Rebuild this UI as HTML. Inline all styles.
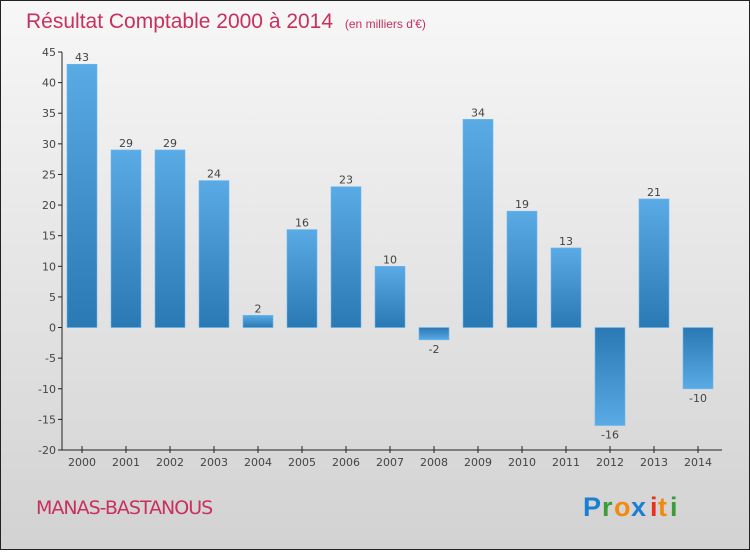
<!DOCTYPE html>
<html><head><meta charset="utf-8"><style>
body{margin:0}
#c{width:748px;height:548px;border:1px solid #222;background:linear-gradient(#f7f7f7,#d2d2d2);position:relative;font-family:"DejaVu Sans","Liberation Sans",sans-serif}
</style></head><body>
<div id="c">
<svg width="748" height="548">
<defs><linearGradient id="gp" x1="0" y1="0" x2="0" y2="1"><stop offset="0" stop-color="#5aaae6"/><stop offset="1" stop-color="#2a78b4"/></linearGradient>
<linearGradient id="gn" x1="0" y1="0" x2="0" y2="1"><stop offset="0" stop-color="#2a78b4"/><stop offset="1" stop-color="#5aaae6"/></linearGradient></defs>
<text x="25" y="27" font-size="21" fill="#c8305e" font-family="Liberation Sans,sans-serif">Résultat Comptable 2000 à 2014 <tspan font-size="12" dx="6">(en milliers d'€)</tspan></text>
<text x="35" y="513" font-size="19" fill="#c8305e" letter-spacing="-1">MANAS-BASTANOUS</text>
<g id="plot"></g>
<g font-size="27" font-family="Liberation Sans,sans-serif" font-weight="bold">
<text x="582" y="515" fill="#1a7fd4">P</text><text x="601" y="515" fill="#3a9c3a">r</text><text x="613" y="515" fill="#f08a10">o</text><text x="630" y="515" fill="#1a7fd4">x</text><text x="649" y="515" fill="#e83020">i</text><text x="657" y="515" fill="#f08a10">t</text><text x="669" y="515" fill="#3a9c3a">i</text></g>
</svg></div>
<script>
const years=[2000,2001,2002,2003,2004,2005,2006,2007,2008,2009,2010,2011,2012,2013,2014];
const values=[43,29,29,24,2,16,23,10,-2,34,19,13,-16,21,-10];
const ticks=[45,40,35,30,25,20,15,10,5,0,-5,-10,-15,-20];
const NS="http://www.w3.org/2000/svg";
const g=document.getElementById('plot');
const yMax=45,yMin=-20,pTop=51,pBot=449;
const y=v=>pTop+(yMax-v)*(pBot-pTop)/(yMax-yMin);
const x=i=>81+i*44;
function el(t,a,p){const e=document.createElementNS(NS,t);for(const k in a)e.setAttribute(k,a[k]);(p||g).appendChild(e);return e;}
const ax=el('line',{x1:61,y1:pTop,x2:61,y2:pBot,stroke:'#222'});


const xa=el('line',{x1:61,y1:pBot,x2:721,y2:pBot,stroke:'#222'});


ticks.forEach(t=>{
 const l=el('line',{x1:57,y1:y(t),x2:61,y2:y(t),stroke:'#222'});
 
 
 const tx=el('text',{x:55,y:y(t)+4,'text-anchor':'end','font-size':11,fill:'#444'});tx.textContent=t;
 
 
});
years.forEach((yr,i)=>{
 const v=values[i],y0=y(0),yv=y(v);
 const r=el('rect',{x:x(i)-15,y:Math.min(y0,yv),width:30,height:Math.abs(yv-y0),fill:v>=0?'url(#gp)':'url(#gn)',stroke:'#6bb8ee','stroke-width':0.6});
 
 
 const lb=el('text',{x:x(i),y:v>=0?yv-3:yv+13,'text-anchor':'middle','font-size':11,fill:'#444'});lb.textContent=v<0?'-'+(-v):v;
 
 
 const tk=el('line',{x1:x(i),y1:pBot-4,x2:x(i),y2:pBot+3,stroke:'#222'});
 
 
 const xl=el('text',{x:x(i),y:pBot+16,'text-anchor':'middle','font-size':11,fill:'#444'});xl.textContent=yr;
 
 
});
</script>
</body></html>
